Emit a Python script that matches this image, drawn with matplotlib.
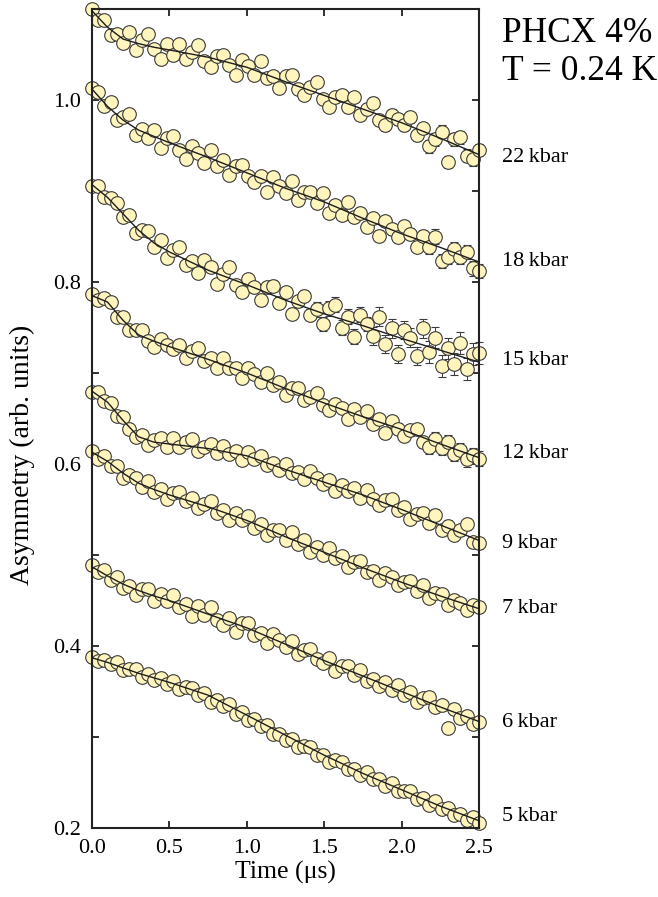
import numpy as np
import matplotlib
matplotlib.use("Agg")
import matplotlib.pyplot as plt

plt.rcParams['font.family'] = ['Liberation Serif', 'DejaVu Serif']

# time bins (us)
t = np.linspace(0, 2.5, 63)

# asymmetry data for each pressure
a22 = [1.100, 1.088, 1.088, 1.071, 1.073, 1.063, 1.075, 1.055, 1.066, 1.072,
       1.056, 1.045, 1.062, 1.050, 1.062, 1.045, 1.053, 1.060, 1.043, 1.036,
       1.048, 1.050, 1.038, 1.027, 1.044, 1.037, 1.027, 1.043, 1.024, 1.026,
       1.013, 1.026, 1.028, 1.012, 1.006, 1.014, 1.020, 1.001, 0.992, 1.003,
       1.005, 0.992, 1.003, 0.983, 0.990, 0.997, 0.978, 0.972, 0.984, 0.979,
       0.972, 0.981, 0.961, 0.969, 0.949, 0.957, 0.965, 0.932, 0.957, 0.959,
       0.939, 0.935, 0.945]
a18 = [1.013, 1.009, 0.993, 0.998, 0.978, 0.981, 0.985, 0.961, 0.968, 0.958,
       0.967, 0.947, 0.958, 0.960, 0.945, 0.935, 0.949, 0.942, 0.931, 0.945,
       0.928, 0.934, 0.918, 0.927, 0.929, 0.917, 0.910, 0.917, 0.899, 0.915,
       0.906, 0.898, 0.911, 0.890, 0.899, 0.899, 0.887, 0.898, 0.876, 0.885,
       0.874, 0.888, 0.871, 0.876, 0.860, 0.870, 0.851, 0.867, 0.858, 0.850,
       0.861, 0.853, 0.839, 0.851, 0.839, 0.850, 0.823, 0.828, 0.836, 0.828,
       0.833, 0.815, 0.812]
a15 = [0.905, 0.905, 0.893, 0.892, 0.887, 0.871, 0.874, 0.854, 0.857, 0.856,
       0.838, 0.846, 0.826, 0.835, 0.838, 0.819, 0.823, 0.810, 0.824, 0.817,
       0.798, 0.809, 0.816, 0.797, 0.789, 0.803, 0.794, 0.780, 0.794, 0.796,
       0.777, 0.789, 0.765, 0.779, 0.785, 0.764, 0.770, 0.754, 0.771, 0.775,
       0.750, 0.762, 0.740, 0.764, 0.754, 0.741, 0.762, 0.732, 0.749, 0.721,
       0.747, 0.739, 0.719, 0.749, 0.723, 0.739, 0.708, 0.727, 0.710, 0.733,
       0.704, 0.721, 0.722]
a12 = [0.787, 0.780, 0.782, 0.778, 0.762, 0.761, 0.747, 0.747, 0.747, 0.735,
       0.729, 0.737, 0.731, 0.726, 0.731, 0.716, 0.724, 0.727, 0.713, 0.716,
       0.706, 0.717, 0.705, 0.706, 0.694, 0.705, 0.699, 0.690, 0.700, 0.687,
       0.690, 0.676, 0.683, 0.684, 0.670, 0.674, 0.678, 0.665, 0.659, 0.666,
       0.662, 0.650, 0.660, 0.652, 0.658, 0.644, 0.649, 0.634, 0.647, 0.639,
       0.631, 0.637, 0.638, 0.624, 0.619, 0.627, 0.618, 0.624, 0.611, 0.615,
       0.605, 0.610, 0.606]
a9 = [0.679, 0.679, 0.669, 0.667, 0.653, 0.652, 0.639, 0.630, 0.632, 0.621,
      0.626, 0.629, 0.619, 0.629, 0.619, 0.624, 0.627, 0.614, 0.619, 0.622,
      0.612, 0.620, 0.611, 0.614, 0.604, 0.613, 0.605, 0.609, 0.599, 0.601,
      0.593, 0.600, 0.590, 0.591, 0.583, 0.592, 0.585, 0.578, 0.582, 0.570,
      0.577, 0.570, 0.574, 0.563, 0.571, 0.562, 0.555, 0.560, 0.562, 0.549,
      0.553, 0.540, 0.545, 0.546, 0.535, 0.544, 0.528, 0.532, 0.522, 0.527,
      0.534, 0.514, 0.513]
a7 = [0.614, 0.606, 0.609, 0.598, 0.598, 0.585, 0.588, 0.585, 0.575, 0.581,
      0.569, 0.573, 0.562, 0.568, 0.569, 0.559, 0.563, 0.552, 0.556, 0.559,
      0.546, 0.549, 0.539, 0.546, 0.538, 0.543, 0.530, 0.534, 0.522, 0.528,
      0.528, 0.517, 0.525, 0.512, 0.516, 0.503, 0.509, 0.500, 0.508, 0.497,
      0.499, 0.487, 0.492, 0.493, 0.481, 0.482, 0.473, 0.480, 0.476, 0.467,
      0.470, 0.471, 0.460, 0.467, 0.453, 0.458, 0.457, 0.445, 0.451, 0.447,
      0.440, 0.445, 0.443]
a6 = [0.489, 0.481, 0.483, 0.472, 0.476, 0.464, 0.466, 0.456, 0.463, 0.463,
      0.450, 0.457, 0.449, 0.456, 0.443, 0.446, 0.433, 0.444, 0.434, 0.443,
      0.429, 0.423, 0.431, 0.415, 0.425, 0.425, 0.412, 0.414, 0.403, 0.413,
      0.407, 0.399, 0.405, 0.391, 0.396, 0.397, 0.386, 0.381, 0.387, 0.373,
      0.378, 0.378, 0.368, 0.374, 0.361, 0.364, 0.356, 0.360, 0.352, 0.357,
      0.346, 0.350, 0.338, 0.343, 0.344, 0.333, 0.335, 0.310, 0.331, 0.321,
      0.323, 0.314, 0.316]
a5 = [0.388, 0.383, 0.385, 0.380, 0.382, 0.374, 0.375, 0.375, 0.366, 0.369,
      0.363, 0.365, 0.358, 0.362, 0.353, 0.355, 0.354, 0.346, 0.348, 0.339,
      0.341, 0.334, 0.336, 0.325, 0.327, 0.319, 0.320, 0.312, 0.313, 0.303,
      0.303, 0.297, 0.298, 0.289, 0.290, 0.289, 0.280, 0.280, 0.273, 0.275,
      0.273, 0.265, 0.265, 0.258, 0.262, 0.254, 0.254, 0.246, 0.249, 0.241,
      0.241, 0.241, 0.232, 0.233, 0.225, 0.230, 0.221, 0.222, 0.214, 0.215,
      0.209, 0.212, 0.206]

# error bars, one value per block of 9 time bins
err22 = [0.003, 0.003, 0.004, 0.004, 0.005, 0.006, 0.007]
err18 = [0.003, 0.003, 0.004, 0.005, 0.005, 0.006, 0.008]
err15 = [0.004, 0.004, 0.005, 0.006, 0.008, 0.010, 0.012]
err12 = [0.003, 0.003, 0.004, 0.004, 0.005, 0.006, 0.008]
err9 = [0.002, 0.003, 0.003, 0.004, 0.004, 0.005, 0.006]
err7 = [0.002, 0.002, 0.003, 0.003, 0.004, 0.004, 0.005]
err6 = [0.002, 0.002, 0.003, 0.003, 0.004, 0.004, 0.005]
err5 = [0.002, 0.002, 0.003, 0.003, 0.004, 0.004, 0.005]

# fit curves (knots)
t_fit = [0, 0.1, 0.2, 0.3, 0.4, 0.5, 0.75, 1.0, 1.25, 1.5, 1.75, 2.0, 2.25, 2.5]
f22 = [1.098, 1.080, 1.067, 1.062, 1.058, 1.055, 1.047, 1.036, 1.020, 1.005, 0.990, 0.975, 0.958, 0.940]
f18 = [1.012, 0.993, 0.978, 0.967, 0.960, 0.953, 0.937, 0.920, 0.903, 0.888, 0.870, 0.853, 0.838, 0.822]
f15 = [0.907, 0.893, 0.875, 0.857, 0.843, 0.833, 0.813, 0.797, 0.780, 0.765, 0.752, 0.738, 0.725, 0.712]
f12 = [0.785, 0.778, 0.758, 0.742, 0.735, 0.729, 0.715, 0.700, 0.683, 0.667, 0.652, 0.638, 0.622, 0.607]
f9 = [0.680, 0.668, 0.648, 0.630, 0.624, 0.622, 0.617, 0.609, 0.594, 0.580, 0.566, 0.550, 0.533, 0.516]
f7 = [0.613, 0.603, 0.590, 0.579, 0.572, 0.566, 0.553, 0.538, 0.520, 0.503, 0.486, 0.470, 0.455, 0.441]
f6 = [0.487, 0.477, 0.468, 0.461, 0.455, 0.450, 0.435, 0.420, 0.402, 0.384, 0.367, 0.350, 0.333, 0.317]
f5 = [0.387, 0.382, 0.376, 0.370, 0.365, 0.360, 0.346, 0.324, 0.302, 0.280, 0.260, 0.242, 0.224, 0.208]

labels = ['22\u2009kbar', '18\u2009kbar', '15\u2009kbar', '12\u2009kbar',
          '9\u2009kbar', '7\u2009kbar', '6\u2009kbar', '5\u2009kbar']
label_y = [0.937, 0.822, 0.714, 0.612, 0.513, 0.441, 0.316, 0.213]

data = [a22, a18, a15, a12, a9, a7, a6, a5]
errs = [err22, err18, err15, err12, err9, err7, err6, err5]
fits = [f22, f18, f15, f12, f9, f7, f6, f5]

fig = plt.figure(figsize=(6.58, 8.97), dpi=100)
ax = fig.add_axes([92 / 658, 69 / 897, 387 / 658, 819 / 897])

for y, e, f in zip(data, errs, fits):
    ax.errorbar(t, y, yerr=np.repeat(e, 9), fmt='o', ms=9.8, mfc='#fff5bd',
                mec='#3a3a3a', mew=0.8, ecolor='#3a3a3a', elinewidth=0.7,
                capsize=3, capthick=0.7, zorder=2, clip_on=False)
    ax.plot(t_fit, f, color='#1e1e1e', lw=1.0, zorder=3, clip_on=False)

for lab, yl in zip(labels, label_y):
    ax.text(2.65, yl, lab, fontsize=16, ha='left', va='center', clip_on=False)

fig.text(502 / 658, 1 - 33 / 897, 'PHCX 4%', fontsize=25.5, ha='left', va='center')
fig.text(502 / 658, 1 - 72 / 897, 'T = 0.24 K', fontsize=25.5, ha='left', va='center')

ax.set_xlim(0, 2.5)
ax.set_ylim(0.2, 1.1)
ax.set_xticks([0, 0.5, 1.0, 1.5, 2.0, 2.5])
ax.set_xticklabels(['0.0', '0.5', '1.0', '1.5', '2.0', '2.5'])
ax.set_yticks([0.2, 0.4, 0.6, 0.8, 1.0])
ax.set_yticklabels(['0.2', '0.4', '0.6', '0.8', '1.0'])
ax.set_yticks([0.3, 0.5, 0.7, 0.9, 1.1], minor=True)
ax.tick_params(which='both', direction='in', top=True, right=True,
               length=5, width=1.3, color='#222222', labelsize=16, pad=8)

for s in ax.spines.values():
    s.set_linewidth(1.5)
    s.set_color('#222222')

ax.set_xlabel('Time (\u03bcs)', fontsize=18.5, labelpad=2)
fig.text(22 / 658, 1 - 455 / 897, 'Asymmetry (arb. units)', fontsize=20,
         rotation=90, ha='center', va='center')

fig.savefig('out.png', dpi=100)
